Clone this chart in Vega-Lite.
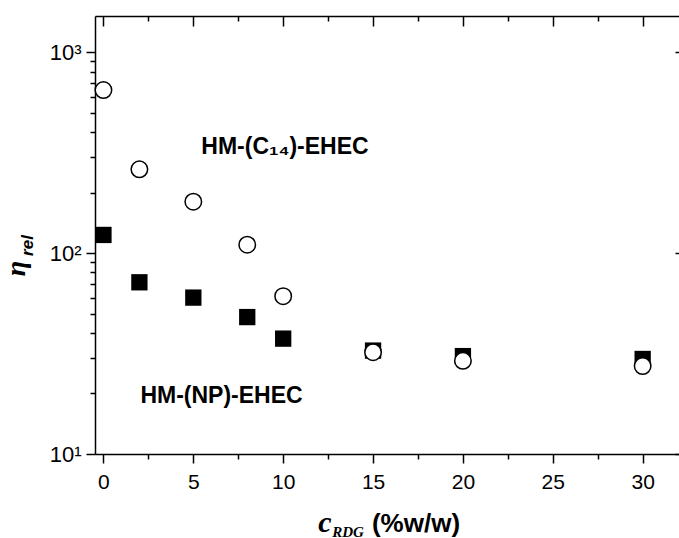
{
  "$schema": "https://vega.github.io/schema/vega-lite/v6.json",
  "width": 589,
  "height": 438,
  "autosize": {"type": "none"},
  "padding": {"left": 95, "top": 16, "right": -5, "bottom": 84},
  "background": "white",
  "config": {
    "view": {"stroke": null},
    "axis": {
      "grid": false,
      "domainColor": "black",
      "domainWidth": 1.5,
      "tickColor": "black",
      "tickWidth": 1.5,
      "labelColor": "black",
      "titleColor": "black",
      "labelFont": "Liberation Sans",
      "labelFontSize": 21,
      "titleFont": "Liberation Sans"
    }
  },
  "datasets": {
    "points": [
      {"series": "HM-(NP)-EHEC", "c": 0, "eta": 123},
      {"series": "HM-(NP)-EHEC", "c": 2, "eta": 71.5},
      {"series": "HM-(NP)-EHEC", "c": 5, "eta": 60},
      {"series": "HM-(NP)-EHEC", "c": 8, "eta": 48},
      {"series": "HM-(NP)-EHEC", "c": 10, "eta": 37.5},
      {"series": "HM-(NP)-EHEC", "c": 15, "eta": 32.7},
      {"series": "HM-(NP)-EHEC", "c": 20, "eta": 30.7},
      {"series": "HM-(NP)-EHEC", "c": 30, "eta": 29.7},
      {"series": "HM-(C14)-EHEC", "c": 0, "eta": 647},
      {"series": "HM-(C14)-EHEC", "c": 2, "eta": 261},
      {"series": "HM-(C14)-EHEC", "c": 5, "eta": 180},
      {"series": "HM-(C14)-EHEC", "c": 8, "eta": 110},
      {"series": "HM-(C14)-EHEC", "c": 10, "eta": 61},
      {"series": "HM-(C14)-EHEC", "c": 15, "eta": 32.1},
      {"series": "HM-(C14)-EHEC", "c": 20, "eta": 29.1},
      {"series": "HM-(C14)-EHEC", "c": 30, "eta": 27.4}
    ],
    "labelC14": [{"text": "HM-(C₁₄)-EHEC", "c": 10.1, "eta": 310}],
    "labelNP": [{"text": "HM-(NP)-EHEC", "c": 6.57, "eta": 17.9}]
  },
  "resolve": {"axis": {"x": "independent", "y": "independent"}},
  "layer": [
    {
      "data": {"name": "points"},
      "transform": [{"filter": "datum.series == 'HM-(NP)-EHEC'"}],
      "mark": {"type": "point", "shape": "square", "filled": true, "color": "black", "size": 266, "opacity": 1, "strokeWidth": 0},
      "encoding": {
        "x": {
          "field": "c", "type": "quantitative",
          "scale": {"domain": [-0.47, 32.3], "nice": false, "zero": false},
          "axis": {
            "orient": "bottom",
            "values": [0, 2.5, 5, 7.5, 10, 12.5, 15, 17.5, 20, 22.5, 25, 27.5, 30],
            "tickSize": {"condition": {"test": "datum.value % 5 != 0", "value": 5}, "value": 9},
            "labelExpr": "datum.value % 5 == 0 ? datum.label : ''",
            "labelPadding": 8,
            "labelFlush": false,
            "labelOverlap": false,
            "title": "(%w/w)",
            "titleFontSize": 26,
            "titleFontWeight": "bold",
            "titleX": 320.5,
            "titleY": 77,
            "titleAlign": "center",
            "titleBaseline": "alphabetic"
          }
        },
        "y": {
          "field": "eta", "type": "quantitative",
          "scale": {"type": "log", "domain": [10, 1511], "nice": false},
          "axis": {
            "orient": "left",
            "values": [10, 20, 30, 40, 50, 60, 70, 80, 90, 100, 200, 300, 400, 500, 600, 700, 800, 900, 1000],
            "tickSize": {"condition": {"test": "datum.value != 10 && datum.value != 100 && datum.value != 1000", "value": 5}, "value": 9},
            "labelExpr": "datum.value == 10 ? '10¹' : datum.value == 100 ? '10²' : datum.value == 1000 ? '10³' : ''",
            "labelFontSize": 22,
            "labelPadding": 5,
            "labelOverlap": false,
            "labelFlush": false,
            "title": null
          }
        }
      }
    },
    {
      "data": {"name": "points"},
      "transform": [{"filter": "datum.series == 'HM-(C14)-EHEC'"}],
      "mark": {"type": "point", "shape": "circle", "filled": true, "fill": "white", "stroke": "black", "strokeWidth": 1.5, "size": 272, "opacity": 1},
      "encoding": {
        "x": {
          "field": "c", "type": "quantitative",
          "scale": {"domain": [-0.47, 32.3], "nice": false, "zero": false},
          "axis": {
            "orient": "top",
            "values": [0, 2.5, 5, 7.5, 10, 12.5, 15, 17.5, 20, 22.5, 25, 27.5, 30],
            "tickSize": {"condition": {"test": "datum.value % 5 != 0", "value": -5}, "value": -10},
            "labels": false,
            "title": null
          }
        },
        "y": {
          "field": "eta", "type": "quantitative",
          "scale": {"type": "log", "domain": [10, 1511], "nice": false},
          "axis": {
            "orient": "right",
            "values": [10, 20, 30, 40, 50, 60, 70, 80, 90, 100, 200, 300, 400, 500, 600, 700, 800, 900, 1000],
            "tickSize": {"condition": {"test": "datum.value != 10 && datum.value != 100 && datum.value != 1000", "value": -5}, "value": -9},
            "labels": false,
            "title": null
          }
        }
      }
    },
    {
      "data": {"name": "labelC14"},
      "mark": {"type": "text", "font": "Liberation Sans", "fontWeight": "bold", "fontSize": 23, "align": "center", "baseline": "alphabetic", "color": "black"},
      "encoding": {
        "text": {"field": "text"},
        "x": {
          "field": "c", "type": "quantitative",
          "scale": {"domain": [-0.47, 32.3], "nice": false, "zero": false},
          "axis": {
            "orient": "bottom", "domain": false, "ticks": false, "labels": false,
            "title": "c", "titleFont": "Liberation Serif", "titleFontStyle": "italic", "titleFontWeight": "bold",
            "titleFontSize": 30, "titleX": 229.5, "titleY": 77, "titleAlign": "center", "titleBaseline": "alphabetic"
          }
        },
        "y": {
          "field": "eta", "type": "quantitative",
          "scale": {"type": "log", "domain": [10, 1511], "nice": false},
          "axis": {
            "orient": "left", "domain": false, "ticks": false, "labels": false,
            "title": "η", "titleFont": "Liberation Serif", "titleFontStyle": "italic", "titleFontWeight": "bold",
            "titleFontSize": 28, "titleX": -71, "titleY": 252, "titleAngle": 270, "titleAlign": "center", "titleBaseline": "alphabetic"
          }
        }
      }
    },
    {
      "data": {"name": "labelNP"},
      "mark": {"type": "text", "font": "Liberation Sans", "fontWeight": "bold", "fontSize": 23, "align": "center", "baseline": "alphabetic", "color": "black"},
      "encoding": {
        "text": {"field": "text"},
        "x": {
          "field": "c", "type": "quantitative",
          "scale": {"domain": [-0.47, 32.3], "nice": false, "zero": false},
          "axis": {
            "orient": "bottom", "domain": false, "ticks": false, "labels": false,
            "title": "RDG", "titleFont": "Liberation Serif", "titleFontStyle": "italic", "titleFontWeight": "bold",
            "titleFontSize": 15, "titleX": 252.5, "titleY": 82, "titleAlign": "center", "titleBaseline": "alphabetic"
          }
        },
        "y": {
          "field": "eta", "type": "quantitative",
          "scale": {"type": "log", "domain": [10, 1511], "nice": false},
          "axis": {
            "orient": "left", "domain": false, "ticks": false, "labels": false,
            "title": "rel", "titleFont": "Liberation Sans", "titleFontStyle": "italic", "titleFontWeight": "bold",
            "titleFontSize": 17, "titleX": -63, "titleY": 229, "titleAngle": 270, "titleAlign": "center", "titleBaseline": "alphabetic"
          }
        }
      }
    }
  ]
}
